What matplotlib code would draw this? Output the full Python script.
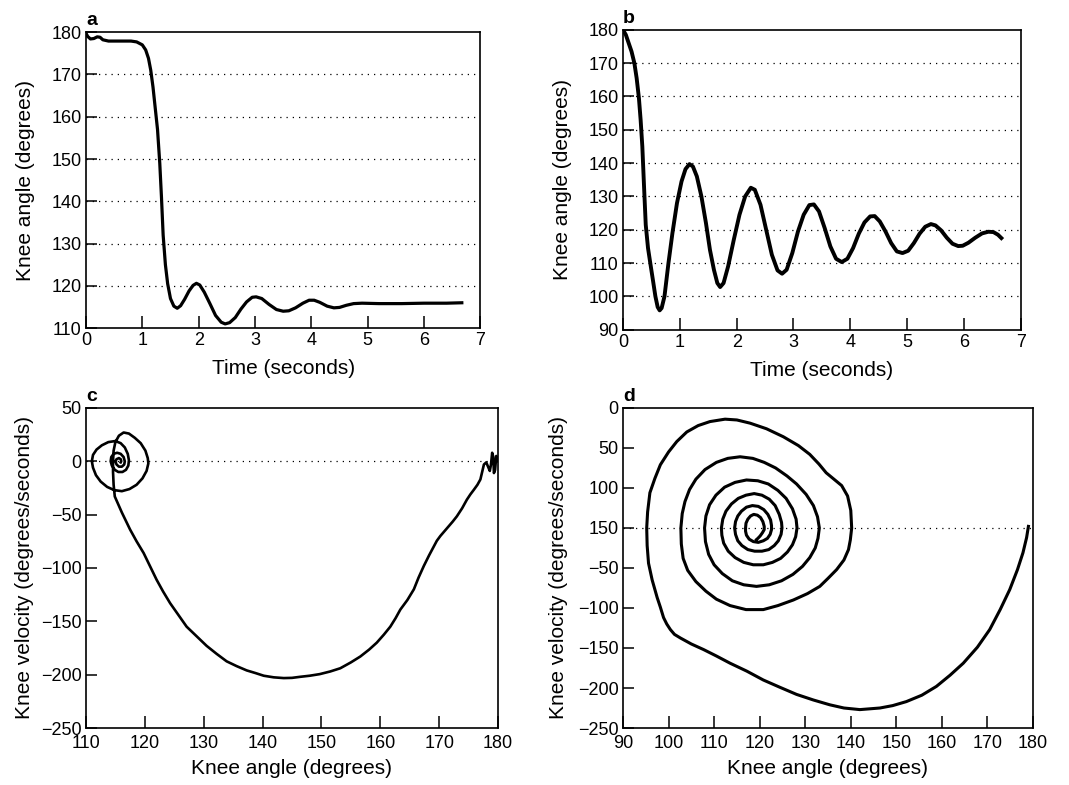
import matplotlib
matplotlib.use('Agg')
import matplotlib.pyplot as plt

plt.rcParams['font.family'] = ['Liberation Sans', 'DejaVu Sans']

# ---- panel a: knee angle vs time ----
a_time = [0.0, 0.03, 0.08, 0.14, 0.2, 0.25, 0.3, 0.4, 0.6, 0.8, 0.9, 1.0, 1.06, 1.11,
          1.15, 1.19, 1.23, 1.27, 1.31, 1.34, 1.37, 1.41, 1.45, 1.5, 1.56, 1.62, 1.68,
          1.75, 1.83, 1.9, 1.96, 2.02, 2.1, 2.2, 2.3, 2.4, 2.47, 2.55, 2.65, 2.75, 2.85,
          2.95, 3.02, 3.12, 3.25, 3.38, 3.5, 3.6, 3.72, 3.85, 3.96, 4.05, 4.15, 4.28,
          4.4, 4.5, 4.62, 4.75, 4.9, 5.2, 5.6, 6.0, 6.4, 6.67]
a_angle = [179.8, 179.0, 178.4, 178.5, 178.9, 178.8, 178.2, 177.9, 177.9, 177.9, 177.7,
           177.0, 175.8, 173.8, 171.0, 167.0, 162.0, 157.0, 149.0, 141.0, 132.0, 125.0,
           120.5, 117.0, 115.2, 114.7, 115.3, 116.8, 118.8, 120.1, 120.6, 120.2, 118.5,
           115.8, 113.0, 111.4, 111.0, 111.3, 112.5, 114.5, 116.2, 117.3, 117.4, 117.0,
           115.6, 114.4, 114.0, 114.1, 114.8, 115.9, 116.6, 116.6, 116.1, 115.2, 114.8,
           114.9, 115.4, 115.8, 115.9, 115.8, 115.8, 115.9, 115.9, 116.0]

# ---- panel b: knee angle vs time ----
b_time = [0.0, 0.05, 0.1, 0.15, 0.2, 0.24, 0.28, 0.31, 0.34, 0.37, 0.4, 0.44, 0.48, 0.53,
          0.57, 0.61, 0.645, 0.68, 0.73, 0.8, 0.87, 0.95, 1.03, 1.1, 1.17, 1.23, 1.3,
          1.38, 1.46, 1.53, 1.6, 1.66, 1.71, 1.77, 1.85, 1.95, 2.05, 2.15, 2.25, 2.32,
          2.42, 2.52, 2.62, 2.72, 2.8, 2.88, 2.98, 3.08, 3.18, 3.28, 3.36, 3.45, 3.55,
          3.65, 3.75, 3.85, 3.95, 4.05, 4.15, 4.25, 4.35, 4.43, 4.52, 4.62, 4.72, 4.82,
          4.92, 5.02, 5.12, 5.22, 5.32, 5.42, 5.5, 5.6, 5.7, 5.8, 5.9, 5.98, 6.08, 6.2,
          6.32, 6.43, 6.52, 6.6, 6.66]
b_angle = [180.0, 178.5, 176.0, 173.5, 170.0, 165.5, 159.5, 153.0, 145.0, 133.0, 121.5,
           114.5, 110.0, 104.5, 100.0, 96.8, 95.8, 96.5, 100.0, 110.0, 119.0, 128.0,
           134.5, 138.2, 139.7, 139.0, 136.0, 130.0, 122.0, 114.0, 108.0, 104.0, 102.8,
           104.0, 109.0, 117.0, 124.5, 130.0, 132.6, 132.0, 127.5, 120.0, 112.5, 107.8,
           106.8, 108.0, 113.0, 119.5, 124.5, 127.4, 127.6, 125.5, 120.5, 115.0, 111.3,
           110.3, 111.3, 114.5, 118.8, 122.2, 124.0, 124.1, 122.5, 119.5, 116.0, 113.5,
           113.0, 113.7, 116.0, 118.8, 120.9, 121.7, 121.3, 119.8, 117.6, 115.8, 115.1,
           115.2, 116.1, 117.6, 118.9, 119.4, 119.3, 118.5, 117.5]

# ---- panel c: knee velocity vs knee angle ----
c_angle = [179.9, 179.7, 179.5, 179.3, 179.2, 179.0, 178.8, 178.6, 178.3, 178.0, 177.6,
           177.3, 177.0, 176.5, 175.9, 175.3, 174.7, 173.9, 173.0, 172.3, 171.6, 170.9,
           170.2, 169.6, 169.1, 168.3, 167.4, 166.5, 165.7, 164.6, 163.4, 162.6, 161.7,
           160.6, 159.4, 158.1, 156.6, 155.0, 153.2, 151.5, 149.7, 148.0, 146.4, 145.0,
           143.6, 141.9, 140.2, 138.8, 137.3, 135.6, 133.9, 132.2, 130.5, 128.8, 127.1,
           125.7, 124.3, 123.1, 122.0, 120.9, 119.8, 118.6, 117.5, 116.8, 116.1, 115.5,
           114.9, 114.7, 114.6, 114.6, 114.7, 115.0,
           115.6, 116.4, 117.3, 118.3, 119.3, 120.1, 120.5, 120.6, 120.3, 119.6, 118.6,
           117.4, 116.1, 114.8, 113.6, 112.5, 111.7, 111.2, 111.0, 111.2, 111.8, 112.7,
           113.8, 115.0, 115.9, 116.6, 117.1, 117.3, 117.2, 116.8, 116.2, 115.5, 114.9,
           114.4, 114.2, 114.3, 114.7, 115.3, 115.9, 116.4, 116.6, 116.5, 116.1, 115.6,
           115.2, 115.0, 115.2, 115.6, 115.9, 116.0, 115.9]
c_vel = [0, 5, -8, -11, 4, 8, -3, -9, -5, -1, -3,
         -10, -17, -22, -26.6, -31, -36, -44, -51.6, -56.5, -61, -65.5,
         -70, -74.5, -79.7, -88, -98, -109, -120, -130, -139, -147, -155,
         -162.5, -170, -176.5, -183, -188.5, -194, -197, -199.5, -201, -202, -203,
         -203.2, -202.5, -201, -198.5, -196, -192, -187.5, -180.5, -173, -164, -155,
         -144, -133, -122, -111, -98.5, -86, -75, -64, -56, -48, -40.5,
         -33, -22, -10, 0, 10, 18,
         24, 27, 26, 22, 17, 10, 3, -2, -9, -16, -22,
         -26, -28, -27, -24, -19, -13, -6, 0, 6, 11, 15,
         18, 19, 17, 13, 7, 1, -4, -8, -10, -10, -8,
         -4, 0, 4, 7, 8, 7, 4, 0, -3, -5, -5,
         -3, 0, 2, 3, 2, 0, -1]

# ---- panel d: knee velocity vs knee angle ----
d_angle = [179.0, 178.6, 177.8, 176.6, 174.9, 172.8, 170.5, 167.8, 164.7, 161.8, 158.8,
           155.6, 152.2, 149.2, 146.4, 142.0, 138.5, 135.4, 131.8, 128.1, 124.4, 120.8,
           117.2, 113.5, 110.5, 107.7, 105.0, 102.6, 101.3, 100.4, 99.6, 98.9, 98.2,
           97.5, 96.4, 95.6, 95.3,
           95.2, 95.4, 95.9, 97.0, 98.2, 100.0, 101.8, 104.0, 106.5, 109.1, 112.4, 115.0,
           117.9, 121.5, 125.2, 128.5, 131.0, 133.0, 134.6, 136.3, 138.0, 139.3, 140.0,
           140.2, 139.9, 139.5, 138.5, 136.9, 135.0, 133.2, 130.5, 127.4, 124.0, 120.8,
           117.0, 113.5, 110.5, 108.2, 106.0, 104.2, 103.2, 102.8,
           102.7, 103.0, 103.6, 104.6, 106.0, 108.0, 110.5, 113.0, 115.7, 118.5, 121.0,
           123.5, 126.0, 128.1, 130.2, 131.8, 132.7,
           133.1, 132.8, 132.2, 131.0, 129.4, 127.3, 124.8, 122.1, 119.3, 116.5, 114.0,
           111.8, 110.0, 108.8, 108.1,
           107.9, 108.2, 109.0, 110.4, 112.3, 114.6, 117.1, 119.6, 121.9, 124.0, 125.8,
           127.2, 128.0,
           128.2, 127.9, 127.2, 126.1, 124.6, 122.8, 120.8, 118.6, 116.5, 114.6, 113.1,
           112.1, 111.7,
           111.6, 111.9, 112.6, 113.8, 115.3, 117.0, 118.8, 120.5, 122.1, 123.4, 124.3,
           124.8,
           124.9, 124.7, 124.1, 123.2, 122.0, 120.5, 118.9, 117.4, 116.1, 115.2, 114.7,
           114.5, 114.7, 115.2, 116.0, 117.1, 118.4, 119.7, 120.9, 121.8, 122.4, 122.6,
           122.6, 122.3, 121.7, 120.8, 119.7, 118.6, 117.7, 117.1, 116.9,
           116.9, 117.0, 117.4, 118.0, 118.7, 119.5, 120.2, 120.7, 121.0,
           121.0, 120.6, 120.1, 119.6, 119.3]
d_vel = [2, -12, -31, -52, -77, -102, -127, -149, -169, -184, -198,
         -209, -217, -222, -225, -227, -225, -221, -215, -208, -199, -190,
         -179, -169, -160, -152, -145, -137.5, -133, -127, -120, -112, -99,
         -87, -65, -44, -22,
         0, 20, 44, 62, 79, 95, 108, 120, 128, 133, 136, 135,
         131, 124, 114, 103, 92, 80, 69, 61, 53, 40, 22,
         0, -15, -27, -40, -52, -63, -73, -82, -90, -97, -102,
         -102, -97, -89, -79, -67, -53, -38, -20,
         0, 18, 33, 48, 61, 73, 82, 87, 89, 87, 82,
         75, 65, 55, 42, 28, 14,
         0, -13, -25, -37, -48, -58, -66, -71, -73, -71, -66,
         -57, -46, -33, -17,
         0, 15, 29, 41, 51, 57, 60, 59, 55, 47, 37,
         24, 11,
         0, -11, -21, -30, -38, -43, -46, -46, -43, -37, -29,
         -19, -9,
         0, 11, 21, 30, 37, 41, 43, 41, 36, 28, 17,
         7,
         0, -8, -16, -22, -27, -29, -29, -27, -22, -16, -8,
         0, 8, 15, 21, 26, 28, 27, 23, 17, 10, 3,
         -2, -8, -13, -16, -18, -17, -14, -9, -4,
         0, 6, 11, 15, 17, 16, 13, 8, 2,
         -2, -6, -10, -13, -14.5]

d_yticks = [-250, -200, -150, -100, -50, 0, 50, 100, 150]
d_yticklabels = ['\u2212250', '\u2212200', '\u2212150', '\u2212100', '\u221250',
                 '150', '100', '50', '0']

FS = 13     # tick labels
LFS = 15    # axis labels


def style_axes(ax, letter, xpad=3):
    """Common look: inward ticks, thin box, bold panel letter"""
    for s in ax.spines.values():
        s.set_linewidth(1.2)
    ax.tick_params(axis='x', direction='in', length=9, width=1.1, pad=xpad, labelsize=FS)
    ax.tick_params(axis='y', direction='in', length=8, width=1.1, pad=3, labelsize=FS)
    ax.text(0.0, 1.01, letter, transform=ax.transAxes, fontsize=14,
            fontweight='bold', ha='left', va='bottom')


dot = (0, (1, 4))
fig = plt.figure(figsize=(10.69, 7.85), dpi=100)

# a
ax = fig.add_axes([0.0804, 0.582, 0.369, 0.377])
ax.plot(a_time, a_angle, color='black', lw=2.3, solid_joinstyle='round')
ax.set_xlim(0, 7)
ax.set_ylim(110, 180)
ax.set_xticks(range(0, 8))
ax.set_yticks(range(110, 181, 10))
for v in range(120, 180, 10):
    ax.axhline(v, color='black', lw=0.9, ls=dot, zorder=0)
ax.set_xlabel('Time (seconds)', fontsize=LFS, labelpad=7)
ax.set_ylabel('Knee angle (degrees)', fontsize=LFS, labelpad=12)
style_axes(ax, 'a')

# b
ax = fig.add_axes([0.5828, 0.580, 0.372, 0.382])
ax.plot(b_time, b_angle, color='black', lw=2.8, solid_joinstyle='round')
ax.set_xlim(0, 7)
ax.set_ylim(90, 180)
ax.set_xticks(range(0, 8))
ax.set_yticks(range(90, 181, 10))
for v in range(100, 180, 10):
    ax.axhline(v, color='black', lw=0.9, ls=dot, zorder=0)
ax.set_xlabel('Time (seconds)', fontsize=LFS, labelpad=7)
ax.set_ylabel('Knee angle (degrees)', fontsize=LFS, labelpad=12)
style_axes(ax, 'b')

# c
ax = fig.add_axes([0.0804, 0.0726, 0.3855, 0.4077])
ax.plot(c_angle, c_vel, color='black', lw=1.9, solid_joinstyle='round')
ax.axhline(0, color='black', lw=0.9, ls=dot, zorder=0)
ax.set_xlim(110, 180)
ax.set_ylim(-250, 50)
ax.set_xticks(range(110, 181, 10))
ax.set_yticks(range(-250, 51, 50))
ax.set_xlabel('Knee angle (degrees)', fontsize=LFS, labelpad=5)
ax.set_ylabel('Knee velocity (degrees/seconds)', fontsize=LFS, labelpad=5)
style_axes(ax, 'c', xpad=5)

# d
ax = fig.add_axes([0.5828, 0.0726, 0.3835, 0.4077])
ax.plot(d_angle, d_vel, color='black', lw=2.2, solid_joinstyle='round')
ax.axhline(0, color='black', lw=0.9, ls=dot, zorder=0)
ax.set_xlim(90, 180)
ax.set_ylim(-250, 150)
ax.set_xticks(range(90, 181, 10))
ax.set_yticks(d_yticks)
ax.set_yticklabels(d_yticklabels)
ax.set_xlabel('Knee angle (degrees)', fontsize=LFS, labelpad=5)
ax.set_ylabel('Knee velocity (degrees/seconds)', fontsize=LFS, labelpad=7)
style_axes(ax, 'd', xpad=5)

fig.savefig('out.png', dpi=100)
